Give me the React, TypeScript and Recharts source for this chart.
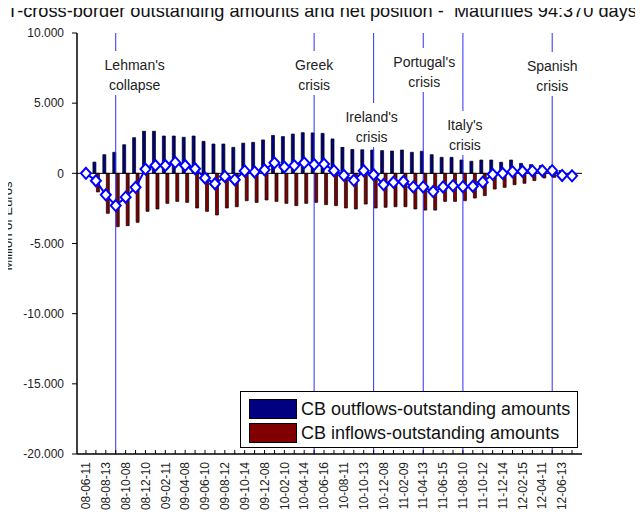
import React from "react";
import {
  ComposedChart,
  Bar,
  Line,
  XAxis,
  YAxis,
  ReferenceLine,
  Legend,
} from "recharts";

// every other maintenance date carries a label on the x axis
const tickLabels: string[] = [
  "08-06-11", "08-08-13", "08-10-08", "08-12-10", "09-02-11", "09-04-08",
  "09-06-10", "09-08-12", "09-10-14", "09-12-08", "10-02-10", "10-04-14",
  "10-06-16", "10-08-11", "10-10-13", "10-12-08", "11-02-09", "11-04-13",
  "11-06-15", "11-08-10", "11-10-12", "11-12-14", "12-02-15", "12-04-11",
  "12-06-13",
];

// million of euros
const outflows: number[] = [
  100, 800, 1330, 1500, 2040, 2540, 3000, 3000, 2660, 2660,
  2570, 2660, 2280, 2090, 2090, 1850, 2150, 2210, 2380, 2700,
  2620, 2800, 2900, 2880, 2850, 2450, 2330, 1700, 1680, 1660,
  1620, 1590, 1660, 1500, 1570, 1330, 1140, 1140, 950, 860,
  950, 950, 790, 950, 710, 620, 550, 480, 200, 70,
];

const inflows: number[] = [
  -100, -1330, -2850, -3800, -3730, -3490, -2710, -2540, -2140, -2000,
  -2070, -2470, -2710, -2970, -2470, -2380, -1950, -2070, -1900, -2000,
  -2140, -2300, -2140, -2070, -2230, -2300, -2470, -2540, -2190, -2470,
  -2420, -2380, -2380, -2540, -2620, -2620, -2000, -2000, -1950, -1760,
  -1590, -1120, -1000, -810, -710, -520, -330, -290, -300, -200,
];

const netPosition: number[] = [
  0, -530, -1530, -2300, -1700, -1000, 300, 560, 560, 780,
  560, 330, -330, -740, -220, -450, 170, 100, 250, 750,
  450, 550, 750, 630, 660, 190, -140, -500, 190, -100,
  -800, -640, -580, -970, -970, -1300, -970, -880, -950, -920,
  -630, -70, 0, 120, 150, 170, 190, 190, -150, -180,
];

const yTicks: number[] = [-20000, -15000, -10000, -5000, 0, 5000, 10000];

const eventIdx: number[] = [3, 23, 29, 34, 38, 47];
const eventText: string[][] = [
  ["Lehman's", "collapse"],
  ["Greek", "crisis"],
  ["Ireland's", "crisis"],
  ["Portugal's", "crisis"],
  ["Italy's", "crisis"],
  ["Spanish", "crisis"],
];

// label placement relative to each event line (dx, centre of first line)
const eventLayout = [
  { dx: 19, y: 65, w: 70 },
  { dx: 0, y: 65, w: 48 },
  { dx: -2, y: 117, w: 66 },
  { dx: 1, y: 62, w: 72 },
  { dx: 2, y: 125, w: 50 },
  { dx: 0, y: 66, w: 60 },
];

const seriesOrder = ["out", "inf"];

const data = outflows.map((v, i) => ({
  idx: i,
  out: v,
  inf: inflows[i],
  net: netPosition[i],
}));

const FONT = "'Liberation Sans', Arial, sans-serif";

const fmt = (v: number) =>
  String(v).replace(/\B(?=(\d{3})+(?!\d))/g, ".");

const BottomTick = (props: any) => {
  const { x, y, payload } = props;
  const i = Number(payload.value);
  const lab = i % 2 === 0 ? tickLabels[i / 2] : null;
  return (
    <g>
      <line x1={x} x2={x} y1={y} y2={y - 4} stroke="#000" />
      {lab && (
        <text
          x={x}
          y={y + 8}
          transform={`rotate(-90, ${x}, ${y + 8})`}
          textAnchor="end"
          dy="0.35em"
          fontSize={12}
          fontFamily={FONT}
          fill="#222"
        >
          {lab}
        </text>
      )}
    </g>
  );
};

const TopTick = (props: any) => {
  const { x, y } = props;
  return <line x1={x} x2={x} y1={y} y2={y + 4} stroke="#000" />;
};

const RightTick = (props: any) => {
  const { x, y } = props;
  return <line x1={x} x2={x - 5} y1={y} y2={y} stroke="#000" />;
};

const Diamond = (props: any) => {
  const { cx, cy, index } = props;
  if (cx == null || cy == null) return <g key={index} />;
  return (
    <path
      key={index}
      d={`M${cx},${cy - 5.5}L${cx + 5},${cy}L${cx},${cy + 5.5}L${cx - 5},${cy}Z`}
      fill="#fff"
      stroke="#0000FF"
      strokeWidth={2}
    />
  );
};

const makeEventLabel = (k: number) => (p: any) => {
  const vb = p.viewBox || { x: 0, y: 0 };
  const lay = eventLayout[k];
  const cx = vb.x + lay.dx;
  return (
    <g>
      <rect
        x={cx - lay.w / 2}
        y={lay.y - 14}
        width={lay.w}
        height={44}
        fill="#fff"
      />
      {eventText[k].map((t, j) => (
        <text
          key={j}
          x={cx}
          y={lay.y + j * 20}
          textAnchor="middle"
          dominantBaseline="central"
          fontSize={14}
          fontFamily={FONT}
          fill="#222"
        >
          {t}
        </text>
      ))}
    </g>
  );
};

const LegendBox = (props: any) => {
  const items = (props.payload || [])
    .filter((p: any) => p.type !== "none")
    .sort(
      (a: any, b: any) =>
        seriesOrder.indexOf(a.dataKey) - seriesOrder.indexOf(b.dataKey)
    );
  return (
    <div
      style={{
        border: "1px solid #000",
        background: "#fff",
        padding: "5px 0 0 8px",
        fontFamily: FONT,
        boxSizing: "border-box",
        width: 338,
        height: 57,
      }}
    >
      {items.map((p: any) => (
        <div
          key={p.value}
          style={{ display: "flex", alignItems: "center", height: 24 }}
        >
          <span
            style={{
              width: 46,
              height: 18,
              background: p.color,
              border: "1px solid #000",
              marginRight: 4,
              flex: "none",
            }}
          />
          <span style={{ fontSize: 18, color: "#111", whiteSpace: "nowrap" }}>
            {p.value}
          </span>
        </div>
      ))}
    </div>
  );
};

export default function App() {
  return (
    <div
      style={{
        position: "relative",
        width: 643,
        height: 523,
        margin: -8,
        background: "#fff",
        fontFamily: FONT,
      }}
    >
      <ComposedChart
        width={643}
        height={523}
        data={data}
        margin={{ top: 33, right: 61, bottom: 9, left: 0 }}
        barGap={0.5}
        barCategoryGap={0}
      >
        <text
          x={2}
          y={17}
          fontSize={18.2}
          fontFamily={FONT}
          fill="#111"
          xmlSpace="preserve"
        >
          {"IT-cross-border outstanding amounts and net position -  Maturities 94:370 days"}
        </text>
        <text
          x={12}
          y={226}
          transform="rotate(-90, 12, 226)"
          textAnchor="middle"
          fontSize={13}
          fontFamily={FONT}
          fill="#222"
        >
          Million of Euros
        </text>
        <XAxis
          dataKey="idx"
          type="category"
          interval={0}
          padding={{ left: 4, right: 5 }}
          height={60}
          tickSize={0}
          tickMargin={0}
          tickLine={false}
          tick={<BottomTick />}
          axisLine={{ stroke: "#000", strokeWidth: 1.5 }}
        />
        <XAxis
          xAxisId="top"
          orientation="top"
          dataKey="idx"
          type="category"
          interval={0}
          padding={{ left: 4, right: 5 }}
          height={0}
          tickSize={0}
          tickMargin={0}
          tickLine={false}
          tick={<TopTick />}
          axisLine={{ stroke: "#000", strokeWidth: 1.5 }}
        />
        <YAxis
          domain={[-20000, 10000]}
          ticks={yTicks}
          width={77}
          tickSize={5}
          tickMargin={8}
          tickFormatter={fmt}
          tick={{ fontSize: 12, fontFamily: FONT, fill: "#222" }}
          tickLine={{ stroke: "#000" }}
          axisLine={{ stroke: "#000", strokeWidth: 1.5 }}
        />
        <YAxis
          yAxisId="right"
          orientation="right"
          domain={[-20000, 10000]}
          ticks={yTicks}
          width={0}
          tickSize={0}
          tickMargin={0}
          tickLine={false}
          tick={<RightTick />}
          axisLine={{ stroke: "#000", strokeWidth: 1.5 }}
        />
        {eventIdx.map((ix, k) => (
          <ReferenceLine
            key={ix}
            x={ix}
            stroke="#2f2fff"
            strokeWidth={1}
            label={makeEventLabel(k)}
          />
        ))}
        <ReferenceLine y={0} stroke="#000" strokeWidth={1} />
        <Bar
          dataKey="out"
          name="CB outflows-outstanding amounts"
          fill="#000080"
          stroke="#000"
          strokeWidth={0.7}
          barSize={3}
          isAnimationActive={false}
        />
        <Bar
          dataKey="inf"
          name="CB inflows-outstanding amounts"
          fill="#800000"
          stroke="#000"
          strokeWidth={0.7}
          barSize={3}
          isAnimationActive={false}
        />
        <Line
          dataKey="net"
          stroke="#0000FF"
          strokeWidth={2}
          dot={Diamond}
          activeDot={false}
          legendType="none"
          isAnimationActive={false}
        />
        <Legend
          layout="vertical"
          align="center"
          verticalAlign="middle"
          content={<LegendBox />}
          wrapperStyle={{ left: 240, top: 391, width: 338 }}
        />
      </ComposedChart>
    </div>
  );
}
